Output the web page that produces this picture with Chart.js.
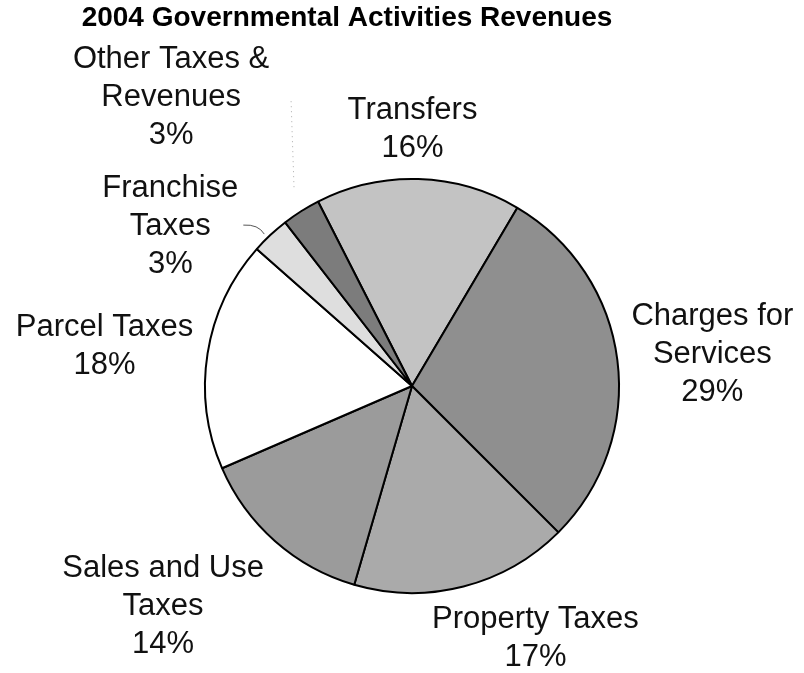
<!DOCTYPE html>
<html>
<head>
<meta charset="utf-8">
<title>2004 Governmental Activities Revenues</title>
<script src="https://cdn.jsdelivr.net/npm/chart.js@4.4.1/dist/chart.umd.min.js"></script>
<style>
  html, body { margin: 0; padding: 0; background: #fff; }
  canvas { display: block; }
</style>
</head>
<body>
<canvas id="revenueChart" width="804" height="673"></canvas>
<script>
// 항목 / 비율(%)
const categories = ['Transfers', 'Charges for\nServices', 'Property Taxes', 'Sales and Use\nTaxes', 'Parcel Taxes', 'Franchise\nTaxes', 'Other Taxes &\nRevenues'];
const shares = [16, 29, 17, 14, 18, 3, 3];

// 조각 색상 (회색 계열)
const sliceColors = ['#c3c3c3', '#8f8f8f', '#aaaaaa', '#9b9b9b', '#ffffff', '#dedede', '#7c7c7c'];

// 라벨 위치: 조각 중앙 호 지점 기준 이동량
const labelShift = [[-6, -52], [95, -8], [72, 50], [-112, 63], [-103, -10], [-100, -11], [-130, -116]];

// 바깥 라벨 + 지시선 그리기
const outsideLabels = {
  id: 'outsideLabels',
  afterDraw(chart) {
    const c = chart.ctx;
    const arcs = chart.getDatasetMeta(0).data;
    c.save();
    c.font = '31px "Liberation Sans", Arial, sans-serif';
    c.fillStyle = '#111';
    c.textAlign = 'center';
    c.textBaseline = 'alphabetic';
    arcs.forEach((arc, i) => {
      const mid = (arc.startAngle + arc.endAngle) / 2;
      const px = arc.x + Math.cos(mid) * arc.outerRadius;
      const py = arc.y + Math.sin(mid) * arc.outerRadius;
      const lines = categories[i].split('\n').concat(shares[i] + '%');
      const cx = px + labelShift[i][0];
      const cy = py + labelShift[i][1];
      const lh = 38;
      lines.forEach((t, k) => {
        c.fillText(t, cx, cy + (k - (lines.length - 1) / 2) * lh + 11);
      });

      // 작은 조각 지시선
      if (i === 5) {
        c.strokeStyle = '#555';
        c.lineWidth = 1;
        c.beginPath();
        c.moveTo(px - 27, py - 10);
        c.quadraticCurveTo(px - 12, py - 11, px - 6, py - 1);
        c.stroke();
      }
      if (i === 6) {
        c.strokeStyle = '#aaa';
        c.lineWidth = 1;
        c.setLineDash([1, 4]);
        c.beginPath();
        c.moveTo(px - 10, py - 110);
        c.lineTo(px - 7, py - 22);
        c.stroke();
        c.setLineDash([]);
      }
    });

    // 제목
    c.font = 'bold 28px "Liberation Sans", Arial, sans-serif';
    c.fillStyle = '#000';
    c.fillText('2004 Governmental Activities Revenues', 347, 26);
    c.restore();
  }
};

const ctx = document.getElementById('revenueChart').getContext('2d');
const revenueChart = new Chart(ctx, {
  type: 'pie',
  data: {
    labels: categories.map(s => s.replace('\n', ' ')),
    datasets: [{
      data: shares,
      backgroundColor: sliceColors,
      borderColor: '#000',
      borderWidth: 2
    }]
  },
  options: {
    responsive: false,
    animation: false,
    rotation: -27,
    layout: { padding: { left: 204, right: 184, top: 178, bottom: 79 } },
    plugins: {
      legend: { display: false },
      title: { display: false },
      tooltip: { enabled: false }
    },
    events: []
  },
  plugins: [outsideLabels]
});
</script>
</body>
</html>
